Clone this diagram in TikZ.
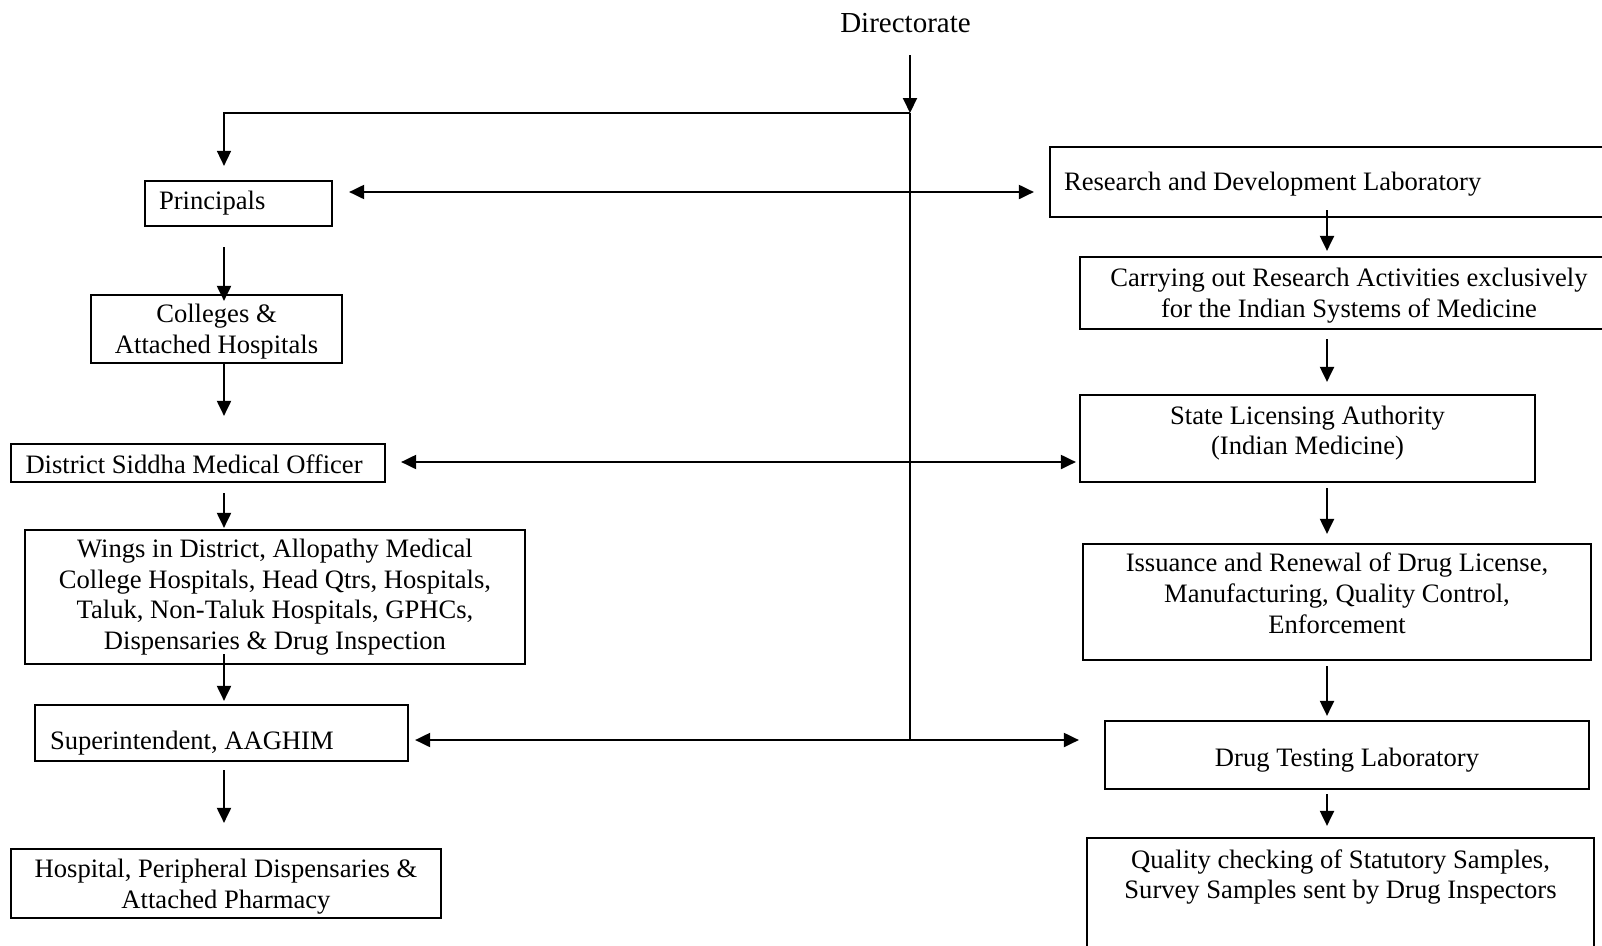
\documentclass[tikz,border=0pt]{standalone}
\usepackage{fontspec}
\setmainfont{Liberation Serif}
\usetikzlibrary{arrows.meta}
\newcommand{\mybody}{\fontsize{26.6}{30.7}\selectfont}
\newcommand{\mydir}{\fontsize{29}{32}\selectfont}
\newcommand{\cbt}[2]{\raisebox{\dimexpr#1-6.65pt\relax}[0pt][0pt]{\begin{tabular}{@{}c@{}}#2\end{tabular}}}
\newcommand{\lbt}[3]{\raisebox{\dimexpr#2-6.65pt\relax}[0pt][0pt]{\makebox[#1][l]{\begin{tabular}{@{}l@{}}#3\end{tabular}}}}
\begin{document}
\begin{tikzpicture}[x=1pt,y=-1pt,
  box/.style={draw,line width=2.2pt,inner sep=0pt,font=\mybody},
  arr/.style={line width=2pt,-{Triangle[length=15pt,width=14pt]}},
  trunk/.style={line width=1.5pt}]
\useasboundingbox (0,0) rectangle (1602,945);

\node[font=\mydir,inner sep=0pt] (dir) at (905.5,23) {Directorate};

% left column
\node[box,minimum width=187pt,minimum height=45pt] (prin) at (238.5,203.5) {\lbt{159pt}{1pt}{Principals}};
\node[box,minimum width=251pt,minimum height=68pt] (col) at (216.5,329) {\cbt{-2.5pt}{Colleges \&\\Attached Hospitals}};
\node[box,minimum width=374pt,minimum height=38pt] (dso) at (198,463) {\lbt{345pt}{-4pt}{District Siddha Medical Officer}};
\node[box,minimum width=500pt,minimum height=134pt] (wing) at (275,597) {\cbt{0pt}{Wings in District, Allopathy Medical\\College Hospitals, Head Qtrs, Hospitals,\\Taluk, Non-Taluk Hospitals, GPHCs,\\Dispensaries \& Drug Inspection}};
\node[box,minimum width=373pt,minimum height=56pt] (sup) at (221.5,733) {\lbt{343pt}{-10pt}{Superintendent, AAGHIM}};
\node[box,minimum width=430pt,minimum height=69pt] (hosp) at (226,883.5) {\cbt{-3pt}{Hospital, Peripheral Dispensaries \&\\Attached Pharmacy}};

% right column
\node[box,minimum width=590pt,minimum height=70pt] (rd) at (1345,182) {\lbt{562pt}{-2pt}{Research and Development Laboratory}};
\node[box,minimum width=538pt,minimum height=72pt] (car) at (1349,293) {\cbt{-2.5pt}{Carrying out Research Activities exclusively\\for the Indian Systems of Medicine}};
\node[box,minimum width=455pt,minimum height=87pt] (sla) at (1307.5,438.5) {\cbt{5.5pt}{State Licensing Authority\\(Indian Medicine)}};
\node[box,minimum width=508pt,minimum height=116pt] (iss) at (1337,602) {\cbt{6pt}{Issuance and Renewal of Drug License,\\Manufacturing, Quality Control,\\Enforcement}};
\node[box,minimum width=484pt,minimum height=68pt] (dtl) at (1347,755) {\cbt{-5pt}{Drug Testing Laboratory}};
\node[box,minimum width=507pt,minimum height=152pt] (qc) at (1340.5,914) {\cbt{37pt}{Quality checking of Statutory Samples,\\Survey Samples sent by Drug Inspectors}};

% junctions
\coordinate (dtop) at (910,55);
\coordinate (j0) at (910,113);
\coordinate (j1) at (910,192);
\coordinate (j2) at (910,462);
\coordinate (j3) at (910,740);
\coordinate (lk) at (224,113);
\coordinate (xl) at (224,0);
\coordinate (xr) at (1327,0);

\draw[arr] (dtop) -- (j0);
\draw[trunk] (j0) -- (j3);
\draw[arr,line width=1.6pt,shorten >=14pt] (j0) -- (lk) -- (prin.north -| lk);
\draw[arr,shorten >=16pt] (j1) -- (prin.east |- j1);
\draw[arr,shorten >=15pt] (j1) -- (rd.west |- j1);
\draw[arr,shorten >=15pt] (j2) -- (dso.east |- j2);
\draw[arr,shorten >=3pt] (j2) -- (sla.west |- j2);
\draw[arr,shorten >=6pt] (j3) -- (sup.east |- j3);
\draw[arr,shorten >=25pt] (j3) -- (dtl.west |- j3);

\draw[arr,shorten <=20pt,shorten >=-7pt] (prin.south -| xl) -- (col.north -| xl);
\draw[arr,shorten >=27pt] (col.south -| xl) -- (dso.north -| xl);
\draw[arr,shorten <=10pt,shorten >=1pt] (dso.south -| xl) -- (wing.north -| xl);
\draw[arr,shorten <=-11pt,shorten >=3pt] (wing.south -| xl) -- (sup.north -| xl);
\draw[arr,shorten <=8pt,shorten >=25pt] (sup.south -| xl) -- (hosp.north -| xl);

\draw[arr,shorten <=-8pt,shorten >=5pt] (rd.south -| xr) -- (car.north -| xr);
\draw[arr,shorten <=9pt,shorten >=12pt] (car.south -| xr) -- (sla.north -| xr);
\draw[arr,shorten <=5pt,shorten >=9pt] (sla.south -| xr) -- (iss.north -| xr);
\draw[arr,shorten <=5pt,shorten >=4pt] (iss.south -| xr) -- (dtl.north -| xr);
\draw[arr,shorten <=4pt,shorten >=11pt] (dtl.south -| xr) -- (qc.north -| xr);
\end{tikzpicture}
\end{document}
